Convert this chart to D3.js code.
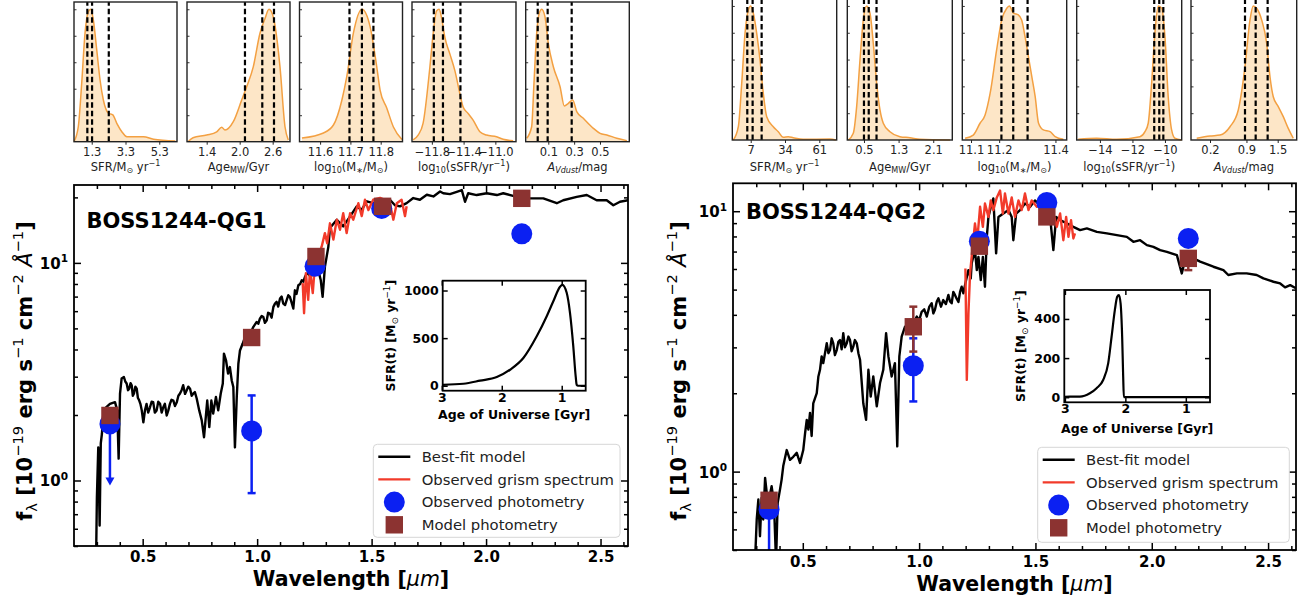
<!DOCTYPE html>
<html><head><meta charset="utf-8">
<script src="https://cdn.jsdelivr.net/npm/d3@7"></script>
<style>body{margin:0;background:#fff;}svg{display:block;font-family:"DejaVu Sans",sans-serif;}</style>
</head><body><script>
// ================= DATA =================
// Best-fit model spectra [wavelength (µm), f_lambda (1e-19 erg/s/cm2/A)]
const qg1Model = [[0.296,0.40],[0.300,0.838],[0.306,1.42],[0.312,0.621],[0.317,1.48],[0.322,1.64],[0.328,2.03],[0.34,2.17],[0.357,2.25],[0.379,2.29],[0.389,2.10],[0.395,1.26],[0.401,2.51],[0.408,2.94],[0.418,2.99],[0.424,2.85],[0.43,2.79],[0.436,2.6],[0.441,2.64],[0.447,2.8],[0.452,2.74],[0.457,2.45],[0.462,2.51],[0.468,2.7],[0.474,2.64],[0.479,2.4],[0.485,2.33],[0.49,2.25],[0.496,2.10],[0.503,1.85],[0.51,2.10],[0.517,2.25],[0.524,2.05],[0.532,2.17],[0.539,2.3],[0.546,2.29],[0.553,2.05],[0.561,2.10],[0.568,2.3],[0.576,2.25],[0.583,2.05],[0.59,2.17],[0.597,2.25],[0.605,1.99],[0.612,2.1],[0.619,2.25],[0.626,2.35],[0.634,2.33],[0.641,2.2],[0.649,2.29],[0.656,2.45],[0.663,2.51],[0.67,2.6],[0.677,2.74],[0.685,2.5],[0.692,2.59],[0.699,2.7],[0.707,2.64],[0.714,2.45],[0.721,2.51],[0.728,2.55],[0.736,2.38],[0.747,2.10],[0.758,1.89],[0.768,1.58],[0.777,2.03],[0.782,2.33],[0.791,1.76],[0.80,2.33],[0.808,2.03],[0.82,2.42],[0.83,2.10],[0.841,2.51],[0.85,2.79],[0.855,3.83],[0.864,3.57],[0.873,3.10],[0.881,3.32],[0.889,2.88],[0.896,2.69],[0.903,1.42],[0.911,2.42],[0.918,3.44],[0.925,3.96],[0.937,4.26],[0.945,4.5],[0.953,4.35],[0.961,4.7],[0.969,4.90],[0.975,4.85],[0.983,5.07],[0.99,5.2],[0.998,5.35],[1.005,5.25],[1.012,5.54],[1.02,5.7],[1.027,5.64],[1.034,5.3],[1.042,5.45],[1.048,5.9],[1.056,5.85],[1.063,5.6],[1.071,6.28],[1.078,6.5],[1.085,6.62],[1.092,6.3],[1.10,6.86],[1.107,7.0],[1.114,6.50],[1.122,6.4],[1.129,6.74],[1.136,7.1],[1.143,6.98],[1.15,6.6],[1.158,6.17],[1.165,7.48],[1.172,7.2],[1.18,7.89],[1.188,8.0],[1.195,8.32],[1.202,8.2],[1.209,8.63],[1.216,8.9],[1.223,8.94],[1.234,8.6],[1.245,9.09],[1.267,9.26],[1.278,8.32],[1.286,6.98],[1.296,9.59],[1.311,11.85],[1.318,14.45],[1.348,15.78],[1.376,14.71],[1.406,16.36],[1.435,18.18],[1.457,17.55],[1.479,19.18],[1.507,18.82],[1.541,19.3],[1.58,19.5],[1.602,18.4],[1.624,18.18],[1.653,18.82],[1.682,19.86],[1.711,19.5],[1.741,20.56],[1.77,20.2],[1.799,21.3],[1.813,20.9],[1.842,20.7],[1.872,21.2],[1.894,21.6],[1.908,19.1],[1.922,20.9],[1.959,20.5],[2.003,20.9],[2.047,20.5],[2.075,20.9],[2.134,20.1],[2.192,19.8],[2.25,19.8],[2.309,18.8],[2.337,19.4],[2.396,20.1],[2.44,20.5],[2.483,19.4],[2.527,19.4],[2.556,18.4],[2.585,19.1],[2.62,19.4]];
const qg2Model = [[0.2946,0.45],[0.302,0.655],[0.309,0.781],[0.316,0.565],[0.323,0.793],[0.330,0.655],[0.338,0.946],[0.345,0.829],[0.352,0.759],[0.366,0.879],[0.376,0.759],[0.385,0.45],[0.392,0.759],[0.402,0.853],[0.409,0.932],[0.416,1.05],[0.431,1.21],[0.445,1.11],[0.459,1.14],[0.474,1.18],[0.488,1.08],[0.502,1.21],[0.51,1.41],[0.517,1.58],[0.524,1.45],[0.531,1.68],[0.538,1.37],[0.545,1.83],[0.56,2.00],[0.567,2.32],[0.574,2.46],[0.581,2.77],[0.588,2.61],[0.603,3.11],[0.61,2.85],[0.617,2.93],[0.624,3.25],[0.631,3.11],[0.638,2.8],[0.646,2.93],[0.653,3.15],[0.66,3.2],[0.667,2.95],[0.674,3.4],[0.681,3.0],[0.689,3.11],[0.696,3.3],[0.703,3.2],[0.71,2.9],[0.717,3.02],[0.724,3.2],[0.732,3.11],[0.739,2.85],[0.746,2.69],[0.76,1.83],[0.772,1.58],[0.782,2.46],[0.792,1.94],[0.803,2.32],[0.818,1.78],[0.832,2.19],[0.846,2.46],[0.858,3.4],[0.868,2.77],[0.882,2.32],[0.896,2.61],[0.906,1.25],[0.915,2.77],[0.925,3.3],[0.939,3.6],[0.95,3.5],[0.961,3.82],[0.975,3.7],[0.99,3.94],[1.0,3.8],[1.011,4.11],[1.022,4.2],[1.033,3.94],[1.044,4.3],[1.054,4.43],[1.061,4.05],[1.068,4.18],[1.076,4.5],[1.083,4.63],[1.094,4.3],[1.104,4.56],[1.115,4.4],[1.126,4.77],[1.133,4.5],[1.14,4.43],[1.147,4.9],[1.154,4.77],[1.162,4.6],[1.169,4.48],[1.176,4.9],[1.183,5.13],[1.19,4.84],[1.202,5.44],[1.212,5.94],[1.222,5.52],[1.226,6.31],[1.24,7.09],[1.248,5.94],[1.255,6.68],[1.265,5.44],[1.274,6.68],[1.283,5.13],[1.291,7.97],[1.298,9.51],[1.312,10.7],[1.319,11.2],[1.331,6.89],[1.341,9.51],[1.362,9.8],[1.384,10.1],[1.398,9.51],[1.405,7.74],[1.417,9.8],[1.434,10.1],[1.455,10.7],[1.477,10.4],[1.498,11.0],[1.52,10.5],[1.563,9.51],[1.577,7.09],[1.589,9.51],[1.606,9.24],[1.635,8.98],[1.663,8.71],[1.692,8.46],[1.721,8.59],[1.764,8.33],[1.807,8.22],[1.85,8.09],[1.893,7.97],[1.921,7.63],[1.95,7.74],[1.979,7.41],[2.007,7.3],[2.036,7.09],[2.065,6.98],[2.108,6.78],[2.129,5.77],[2.143,6.49],[2.179,6.59],[2.208,6.4],[2.265,6.12],[2.308,5.94],[2.329,5.69],[2.366,5.77],[2.408,5.77],[2.451,5.69],[2.48,5.52],[2.523,5.36],[2.552,5.28],[2.573,5.1],[2.595,5.2],[2.62,5.06]];
// Observed grism spectra
const qg1Grism = [[1.199,8.07],[1.205,5.87],[1.213,8.97],[1.223,6.76],[1.231,9.29],[1.243,7.26],[1.253,9.97],[1.267,10.7],[1.282,11.9],[1.296,13.7],[1.306,12.3],[1.318,15.2],[1.333,12.8],[1.348,15.8],[1.362,14.2],[1.376,16.9],[1.391,13.7],[1.406,16.9],[1.42,15.8],[1.442,18.8],[1.457,16.4],[1.471,19.5],[1.486,17.5],[1.507,19.5],[1.537,19.9],[1.563,19.4],[1.58,18.8],[1.595,15.8],[1.61,18.8],[1.631,19.5],[1.646,16.4],[1.653,18.2]];
const qg2Grism = [[1.199,6.03],[1.205,2.25],[1.212,4.05],[1.219,5.77],[1.23,7.3],[1.24,8.97],[1.25,7.74],[1.262,10.4],[1.274,8.71],[1.283,10.7],[1.298,9.51],[1.308,11.0],[1.319,10.1],[1.334,11.3],[1.348,12.0],[1.36,9.8],[1.369,11.7],[1.384,9.8],[1.398,11.3],[1.412,9.51],[1.427,11.0],[1.441,10.1],[1.455,11.7],[1.47,10.1],[1.484,11.0],[1.506,10.4],[1.534,11.0],[1.577,9.8],[1.592,8.71],[1.606,9.8],[1.62,7.74],[1.632,9.51],[1.642,7.97],[1.653,9.24],[1.663,7.86],[1.67,8.22]];
// Photometry [wavelength, flux]; errors [wavelength, low, high]; upper limits [wavelength, flux, limit]
const qg1ObsPhot = [[0.357,1.82],[0.976,1.69],[1.253,9.66],[1.544,17.8],[2.156,13.6]];
const qg1ObsErr = [[0.976,0.875,2.46]];
const qg1ObsLimit = [[0.357,1.82,0.948]];
const qg1ModPhot = [[0.357,1.99],[0.976,4.54],[1.257,10.7],[1.548,18.2],[2.156,19.8]];
const qg1ModErr = [];
const qg2ObsPhot = [[0.355,0.715],[0.975,2.55],[1.259,7.67],[1.549,10.8],[2.157,7.86]];
const qg2ObsErr = [[0.355,0.3,0.72],[0.975,1.86,3.25]];
const qg2ObsLimit = [];
const qg2ModPhot = [[0.355,0.776],[0.975,3.6],[1.259,7.34],[1.549,9.51],[2.157,6.59]];
const qg2ModErr = [[0.975,2.89,4.3],[2.157,5.94,6.9]];
// Star-formation histories [age of universe (Gyr), SFR (Msun/yr)]
const qg1Sfh = [[2.98,10],[2.64,21],[2.362,53],[2.083,91],[1.862,168],[1.64,291],[1.417,519],[1.25,730],[1.14,887],[1.028,1039],[0.99,1060],[0.917,976],[0.862,765],[0.807,414],[0.767,98],[0.75,10],[0.728,0],[0.6,0]];
const qg2Sfh = [[3.0,2],[2.917,3],[2.752,3],[2.587,20],[2.476,46],[2.367,88],[2.284,173],[2.228,309],[2.174,445],[2.135,513],[2.107,522],[2.079,480],[2.053,309],[2.036,105],[2.025,0],[0.6,0]];
// Posterior PDFs [value, normalised density]
const qg1SfrPdf = [[0.248,0],[0.504,0.113],[0.706,0.441],[0.902,0.819],[1.098,0.982],[1.24,1.0],[1.395,0.919],[1.597,0.693],[1.793,0.466],[1.989,0.315],[2.286,0.215],[2.548,0.202],[2.785,0.139],[3.083,0.0755],[3.38,0.038],[4.366,0.038],[4.96,0.018],[6.25,0.005]];
const qg1AgePdf = [[1.06,0],[1.151,0.03],[1.4,0.05],[1.582,0.075],[1.673,0.109],[1.733,0.088],[1.884,0.151],[2.036,0.314],[2.127,0.414],[2.247,0.565],[2.369,0.819],[2.46,0.93],[2.533,1.0],[2.611,0.942],[2.733,0.565],[2.824,0.113],[2.884,0.013]];
const qg1MassPdf = [[11.54,0.028],[11.611,0.066],[11.644,0.126],[11.672,0.315],[11.688,0.491],[11.71,0.821],[11.738,1.0],[11.765,0.869],[11.787,0.566],[11.798,0.39],[11.82,0.255],[11.842,0.111],[11.87,0.017]];
const qg1SsfrPdf = [[-12.036,0.013],[-11.973,0.05],[-11.91,0.14],[-11.825,0.562],[-11.784,0.813],[-11.741,0.987],[-11.708,1.0],[-11.678,0.937],[-11.636,0.787],[-11.573,0.663],[-11.51,0.537],[-11.447,0.363],[-11.406,0.262],[-11.343,0.213],[-11.28,0.163],[-11.195,0.075],[-11.111,0.05],[-10.985,0.037],[-10.902,0.018],[-10.776,0.0075]];
const qg1AvPdf = [[-0.067,0.026],[-0.029,0.113],[-0.011,0.441],[0.01,0.819],[0.03,0.97],[0.049,1.0],[0.074,0.944],[0.1,0.743],[0.139,0.566],[0.191,0.415],[0.224,0.27],[0.255,0.29],[0.289,0.315],[0.32,0.227],[0.371,0.177],[0.449,0.101],[0.501,0.063],[0.553,0.051],[0.63,0.026],[0.708,0.008]];
const qg2SfrPdf = [[-6.68,0],[-2.75,0.099],[-0.08,0.423],[2.52,0.796],[5.11,0.97],[7,1.0],[9.04,0.946],[11.72,0.796],[14.31,0.597],[16.9,0.348],[19.58,0.174],[24.77,0.099],[28.7,0.062],[32.63,0.02],[36.56,0.025],[40.49,0.017],[48.35,0.005],[69.34,0.007],[74.06,0]];
const qg2AgePdf = [[0.137,0],[0.253,0.05],[0.331,0.249],[0.408,0.597],[0.484,0.896],[0.562,1.0],[0.639,0.946],[0.715,0.722],[0.793,0.423],[0.87,0.224],[0.946,0.125],[1.1,0.062],[1.331,0.025],[1.562,0.017],[1.793,0.005],[2.486,0]];
const qg2MassPdf = [[11.079,0.013],[11.108,0.037],[11.132,0.125],[11.15,0.187],[11.168,0.349],[11.191,0.672],[11.209,0.896],[11.227,0.983],[11.236,1.0],[11.251,0.946],[11.268,0.933],[11.28,0.896],[11.292,0.771],[11.304,0.622],[11.316,0.473],[11.328,0.323],[11.34,0.125],[11.357,0.075],[11.381,0.062],[11.399,0.025],[11.428,0.005]];
const qg2SsfrPdf = [[-15.335,0.005],[-14.2,0.013],[-12.97,0.005],[-11.54,0.025],[-11.23,0.062],[-11.03,0.125],[-10.82,0.423],[-10.62,0.796],[-10.41,1.0],[-10.2,0.983],[-10.0,0.771],[-9.8,0.323],[-9.59,0.075],[-9.39,0.013],[-8.97,0]];
const qg2AvPdf = [[-0.055,0.013],[0.2,0.03],[0.392,0.037],[0.584,0.099],[0.743,0.224],[0.872,0.547],[0.968,0.896],[1.031,1.0],[1.096,0.983],[1.192,0.896],[1.288,0.722],[1.352,0.472],[1.415,0.323],[1.511,0.249],[1.607,0.174],[1.703,0.087],[1.799,0.013]];
// 16/50/84 percentiles
const qg1Quantiles = [[1.04,1.32,2.31],[2.096,2.411,2.624],[11.697,11.738,11.776],[-11.775,-11.66,-11.44],[0.018,0.095,0.281]];
const qg2Quantiles = [[4.3,8.5,15.6],[0.5,0.61,0.79],[11.208,11.25,11.301],[-10.66,-10.35,-10.1],[0.872,1.077,1.307]];
// Histogram tick labels
const qg1HistTicks = [[1.3,3.3,5.3],[1.4,2.0,2.6],[11.6,11.7,11.8],[-11.8,-11.4,-11.0],[0.1,0.3,0.5]];
const qg2HistTicks = [[7,34,61],[0.5,1.3,2.1],[11.1,11.2,11.4],[-14,-12,-10],[0.2,0.9,1.5]];
const qg1TickDecimals = [1,1,1,1,1];
const qg2TickDecimals = [0,1,1,0,1];
const wavelengthTicks = [0.5,1.0,1.5,2.0,2.5];
const fluxTicks = [1,10];
const insetAgeTicks = [3,2,1];
const qg1SfrTicks = [0,500,1000];
const qg2SfrTicks = [0,200,400];
const legendLabels = ["Best-fit model","Observed grism spectrum","Observed photometry","Model photometry"];
const panelTitles = ["BOSS1244-QG1","BOSS1244-QG2"];

// ================= DRAWING =================
const BLUE='#0b20f2', BROWN='#8c3331', RED='#f23a2a', ORANGE='#f3a042', FILL='#fde6c7';
const svg=d3.select('body').append('svg').attr('width',1307).attr('height',599);
const defs=svg.append('defs');

function rich(t,segs,fs){
  let cur=0;
  segs.forEach(([s,k])=>{
    const f=(k||'').split(' ');
    const ts=t.append('tspan').text(s);
    let off=0,size=fs;
    if(f.includes('sub')){off=fs*0.22;size=fs*0.7;}
    else if(f.includes('sup')){off=-fs*0.42;size=fs*0.7;}
    ts.attr('font-size',size);
    if(off!==cur) ts.attr('dy',off-cur);
    cur=off;
    if(f.includes('it')) ts.attr('font-style','italic');
    if(f.includes('norm')) ts.attr('font-weight','normal');
    if(f.includes('bold')) ts.attr('font-weight','bold');
  });
}
function styleAxis(g,fs,weight){
  g.select('.domain').remove();
  g.selectAll('.tick line').attr('stroke','#000').attr('stroke-width',1.5);
  g.selectAll('.tick text').attr('font-size',fs).attr('font-weight',weight).attr('fill','#000').attr('font-family','DejaVu Sans');
}
const fmtMinus=(v,d)=>v.toFixed(d).replace('-','\u2212');

// ---------- histograms ----------
const histLabels=[
  [["SFR/M",""],["\u2299","sub"],[" yr",""],["\u22121","sup"]],
  [["Age",""],["MW","sub"],["/Gyr",""]],
  [["log",""],["10","sub"],["(M",""],["\u2217","sub"],["/M",""],["\u2299","sub"],[")",""]],
  [["log",""],["10","sub"],["(sSFR/yr",""],["\u22121","sup"],[")",""]],
  [["A","it"],["Vdust","sub it"],["/mag",""]]
];
function drawHistRow(boxes,doms,top,bottom,pdfs,quants,ticks,decs){
  boxes.forEach((b,i)=>{
    const x=d3.scaleLinear().domain(doms[i]).range([b[0],b[1]]);
    const y=d3.scaleLinear().domain([0,1/0.948]).range([bottom,top]);
    const g=svg.append('g');
    const area=d3.area().x(d=>x(d[0])).y0(y(0)).y1(d=>y(d[1])).curve(d3.curveMonotoneX);
    const line=d3.line().x(d=>x(d[0])).y(d=>y(d[1])).curve(d3.curveMonotoneX);
    g.append('path').datum(pdfs[i]).attr('d',area).attr('fill',FILL);
    g.append('path').datum(pdfs[i]).attr('d',line).attr('fill','none').attr('stroke',ORANGE).attr('stroke-width',1.5);
    g.selectAll('line.q').data(quants[i]).join('line').attr('x1',d=>x(d)).attr('x2',d=>x(d)).attr('y1',bottom).attr('y2',top)
      .attr('stroke','#000').attr('stroke-width',2.2).attr('stroke-dasharray','5.5,3');
    const ax=g.append('g').attr('transform',`translate(0,${bottom})`)
      .call(d3.axisBottom(x).tickValues(ticks[i]).tickSizeInner(3).tickSizeOuter(0).tickPadding(3).tickFormat(d=>fmtMinus(d,decs[i])));
    styleAxis(ax,11.5,'normal');
    ax.selectAll('.tick text').attr('fill','#222');
    ax.selectAll('.tick line').attr('stroke','#222').attr('stroke-width',1);
    const ay=g.append('g').attr('transform',`translate(${b[0]},0)`)
      .call(d3.axisLeft(y).tickValues([0.2,0.4,0.6,0.8,1.0]).tickSizeInner(-2.5).tickSizeOuter(0).tickFormat(''));
    styleAxis(ay,1,'normal'); ay.selectAll('.tick line').attr('stroke','#333').attr('stroke-width',1);
    g.append('rect').attr('x',b[0]).attr('y',top).attr('width',b[1]-b[0]).attr('height',bottom-top)
      .attr('fill','none').attr('stroke','#222').attr('stroke-width',1.4);
    const t=g.append('text').attr('x',(b[0]+b[1])/2).attr('y',170.5).attr('text-anchor','middle').attr('font-size',11.5).attr('fill','#222');
    rich(t,histLabels[i],11.5);
  });
}
drawHistRow([[74,177],[187,290],[299.5,402.5],[412,516],[525.7,629.3]],
  [[0.25,6.35],[1.042,2.915],[11.532,11.872],[-12.05,-10.74],[-0.075,0.727]],2,141.7,
  [qg1SfrPdf,qg1AgePdf,qg1MassPdf,qg1SsfrPdf,qg1AvPdf],qg1Quantiles,qg1HistTicks,qg1TickDecimals);
drawHistRow([[732.3,836.7],[847.3,952.3],[962.3,1066.7],[1076.7,1181.7],[1191,1296.7]],
  [[-7.5,74.7],[0.115,2.54],[11.069,11.44],[-15.43,-8.97],[-0.165,1.865]],-1.4,140,
  [qg2SfrPdf,qg2AgePdf,qg2MassPdf,qg2SsfrPdf,qg2AvPdf],qg2Quantiles,qg2HistTicks,qg2TickDecimals);

// ---------- main panels ----------
function drawMain(o){
  const x=d3.scaleLinear().domain([0.2,2.62]).range([o.l,o.r]);
  const y=d3.scaleLog().domain(o.yd).range([o.b,o.t]);
  const g=svg.append('g');
  const cid='clip'+o.id;
  defs.append('clipPath').attr('id',cid).append('rect').attr('x',o.l).attr('y',o.t).attr('width',o.r-o.l).attr('height',o.b-o.t);
  const gc=g.append('g').attr('clip-path',`url(#${cid})`);
  const line=d3.line().x(d=>x(d[0])).y(d=>y(d[1]));
  gc.append('path').datum(o.model).attr('d',line).attr('fill','none').attr('stroke','#000').attr('stroke-width',2.4).attr('stroke-linejoin','round');
  gc.append('path').datum(o.grism).attr('d',line).attr('fill','none').attr('stroke',RED).attr('stroke-width',2.4).attr('stroke-linejoin','round');
  const err=(arr,col)=>arr.forEach(([w,lo,hi])=>{
    const xx=x(w);
    gc.append('line').attr('x1',xx).attr('x2',xx).attr('y1',y(lo)).attr('y2',y(hi)).attr('stroke',col).attr('stroke-width',2.5);
    [lo,hi].forEach(v=>gc.append('line').attr('x1',xx-4).attr('x2',xx+4).attr('y1',y(v)).attr('y2',y(v)).attr('stroke',col).attr('stroke-width',2.5));
  });
  err(o.obsErr,BLUE);
  o.obsLim.forEach(([w,f,lim])=>{
    const xx=x(w),yt=y(lim);
    gc.append('line').attr('x1',xx).attr('x2',xx).attr('y1',y(f)).attr('y2',yt-7).attr('stroke',BLUE).attr('stroke-width',2.5);
    gc.append('path').attr('d',`M${xx-4.5},${yt-8}L${xx+4.5},${yt-8}L${xx},${yt}Z`).attr('fill',BLUE);
  });
  gc.selectAll('circle.obs').data(o.obs).join('circle').attr('cx',d=>x(d[0])).attr('cy',d=>y(d[1])).attr('r',10.5).attr('fill',BLUE);
  err(o.modErr,BROWN);
  gc.selectAll('rect.mod').data(o.mod).join('rect').attr('x',d=>x(d[0])-8.7).attr('y',d=>y(d[1])-8.7).attr('width',17.4).attr('height',17.4).attr('fill',BROWN);

  // axes
  const minor=d3.range(3,27).map(v=>v/10).filter(v=>Math.abs(v*2-Math.round(v*2))>1e-6);
  const ax1=g.append('g').attr('transform',`translate(0,${o.b})`).call(d3.axisBottom(x).tickValues(wavelengthTicks).tickSizeInner(-7).tickSizeOuter(0).tickPadding(o.xpad).tickFormat(d=>d.toFixed(1)));
  styleAxis(ax1,15,'bold');
  const ax2=g.append('g').attr('transform',`translate(0,${o.b})`).call(d3.axisBottom(x).tickValues(minor).tickSizeInner(-4).tickSizeOuter(0).tickFormat(''));
  styleAxis(ax2,1,'normal');
  const ax3=g.append('g').attr('transform',`translate(0,${o.t})`).call(d3.axisTop(x).tickValues(wavelengthTicks).tickSizeInner(-7).tickSizeOuter(0).tickFormat(''));
  styleAxis(ax3,1,'normal');
  const ax4=g.append('g').attr('transform',`translate(0,${o.t})`).call(d3.axisTop(x).tickValues(minor).tickSizeInner(-4).tickSizeOuter(0).tickFormat(''));
  styleAxis(ax4,1,'normal');
  const yMin=[];
  [-1,0,1].forEach(e=>{for(let m=2;m<=9;m++){const v=m*Math.pow(10,e);if(v>=o.yd[0]-1e-9&&v<=o.yd[1])yMin.push(v);}});
  const ay1=g.append('g').attr('transform',`translate(${o.l},0)`).call(d3.axisLeft(y).tickValues(fluxTicks).tickSizeInner(-7).tickSizeOuter(0).tickPadding(6).tickFormat(''));
  styleAxis(ay1,15,'bold');
  ay1.selectAll('.tick text').each(function(d){
    const t=d3.select(this); t.text(null).attr('dy','0.36em');
    t.append('tspan').text('10');
    t.append('tspan').text(String(Math.round(Math.log10(d)))).attr('font-size',10.5).attr('dy',-6.5);
  });
  const ay2=g.append('g').attr('transform',`translate(${o.l},0)`).call(d3.axisLeft(y).tickValues(yMin).tickSizeInner(-4).tickSizeOuter(0).tickFormat(''));
  styleAxis(ay2,1,'normal');
  const ay3=g.append('g').attr('transform',`translate(${o.r},0)`).call(d3.axisRight(y).tickValues(fluxTicks).tickSizeInner(-7).tickSizeOuter(0).tickFormat(''));
  styleAxis(ay3,1,'normal');
  const ay4=g.append('g').attr('transform',`translate(${o.r},0)`).call(d3.axisRight(y).tickValues(yMin).tickSizeInner(-4).tickSizeOuter(0).tickFormat(''));
  styleAxis(ay4,1,'normal');
  g.append('rect').attr('x',o.l).attr('y',o.t).attr('width',o.r-o.l).attr('height',o.b-o.t).attr('fill','none').attr('stroke','#000').attr('stroke-width',1.8);

  // labels
  g.append('text').attr('x',o.titleX).attr('y',o.titleY).attr('font-size',21).attr('font-weight','bold').text(o.title);
  const xl=g.append('text').attr('x',(o.l+o.r)/2).attr('y',o.xlabY).attr('text-anchor','middle').attr('font-size',20.5).attr('font-weight','bold');
  rich(xl,[["Wavelength [",""],["\u03bcm","it norm"],["]",""]],20.5);
  const yl=g.append('text').attr('x',o.ylabX).attr('y',o.ylabY).attr('transform',`rotate(-90,${o.ylabX},${o.ylabY})`).attr('text-anchor','middle').attr('font-size',21).attr('font-weight','bold');
  rich(yl,[["f",""],["\u03bb","sub norm"],[" [10",""],["\u221219","sup norm"],[" erg s",""],["\u22121","sup norm"],[" cm",""],["\u22122","sup norm"],[" ",""],["\u00c5","it norm"],["\u22121","sup norm"],["]",""]],21);

  // inset
  const I=o.inset;
  const ix=d3.scaleLinear().domain(I.xd).range([I.l,I.r]);
  const iy=d3.scaleLinear().domain(I.yd).range([I.b,I.t]);
  const gi=g.append('g');
  gi.append('rect').attr('x',I.l).attr('y',I.t).attr('width',I.r-I.l).attr('height',I.b-I.t).attr('fill','#fff');
  const icid='iclip'+o.id;
  defs.append('clipPath').attr('id',icid).append('rect').attr('x',I.l).attr('y',I.t).attr('width',I.r-I.l).attr('height',I.b-I.t);
  gi.append('path').datum(I.sfh).attr('clip-path',`url(#${icid})`).attr('d',d3.line().x(d=>ix(d[0])).y(d=>iy(d[1])).curve(d3.curveMonotoneX))
    .attr('fill','none').attr('stroke','#000').attr('stroke-width',2.2);
  const ib=gi.append('g').attr('transform',`translate(0,${I.b})`).call(d3.axisBottom(ix).tickValues(insetAgeTicks).tickSizeInner(-5).tickSizeOuter(0).tickPadding(2).tickFormat(d3.format('d')));
  styleAxis(ib,12.5,'bold');
  const itp=gi.append('g').attr('transform',`translate(0,${I.t})`).call(d3.axisTop(ix).tickValues(insetAgeTicks).tickSizeInner(-5).tickSizeOuter(0).tickFormat(''));
  styleAxis(itp,1,'normal');
  const il=gi.append('g').attr('transform',`translate(${I.l},0)`).call(d3.axisLeft(iy).tickValues(I.yt).tickSizeInner(-5).tickSizeOuter(0).tickPadding(4).tickFormat(d3.format('d')));
  styleAxis(il,12.5,'bold');
  const ir=gi.append('g').attr('transform',`translate(${I.r},0)`).call(d3.axisRight(iy).tickValues(I.yt).tickSizeInner(-5).tickSizeOuter(0).tickFormat(''));
  styleAxis(ir,1,'normal');
  gi.append('rect').attr('x',I.l).attr('y',I.t).attr('width',I.r-I.l).attr('height',I.b-I.t).attr('fill','none').attr('stroke','#000').attr('stroke-width',1.8);
  gi.append('text').attr('x',(I.l+I.r)/2).attr('y',I.xlabY).attr('text-anchor','middle').attr('font-size',12.5).attr('font-weight','bold').text('Age of Universe [Gyr]');
  const iyl=gi.append('text').attr('x',I.ylabX).attr('y',(I.t+I.b)/2).attr('transform',`rotate(-90,${I.ylabX},${(I.t+I.b)/2})`).attr('text-anchor','middle').attr('font-size',12.5).attr('font-weight','bold');
  rich(iyl,[["SFR(t) [M",""],["\u2299","sub norm"],[" yr",""],["\u22121","sup norm"],["]",""]],12.5);

  // legend
  const L=o.legend;
  const gl=g.append('g');
  gl.append('rect').attr('x',L.x).attr('y',L.y).attr('width',L.w).attr('height',L.h).attr('rx',4).attr('fill','#fff').attr('fill-opacity',0.85).attr('stroke','#d6d6d6').attr('stroke-width',1);
  const rows=[L.y+12.4,L.y+35.1,L.y+57.8,L.y+80.5];
  const hx0=L.x+5,hx1=L.x+37,hc=(hx0+hx1)/2;
  gl.append('line').attr('x1',hx0).attr('x2',hx1).attr('y1',rows[0]).attr('y2',rows[0]).attr('stroke','#000').attr('stroke-width',2.4);
  gl.append('line').attr('x1',hx0).attr('x2',hx1).attr('y1',rows[1]).attr('y2',rows[1]).attr('stroke',RED).attr('stroke-width',2.4);
  gl.append('circle').attr('cx',hc).attr('cy',rows[2]).attr('r',10.5).attr('fill',BLUE);
  gl.append('rect').attr('x',hc-8.7).attr('y',rows[3]-8.7).attr('width',17.4).attr('height',17.4).attr('fill',BROWN);
  legendLabels.forEach((s,i)=>gl.append('text').attr('x',L.x+48.4).attr('y',rows[i]).attr('dy','0.36em').attr('font-size',14.8).attr('fill','#222').text(s));
}

drawMain({id:1,l:74,r:628,t:185,b:546,yd:[0.5,22.8],xpad:5,
  model:qg1Model,grism:qg1Grism,obs:qg1ObsPhot,obsErr:qg1ObsErr,obsLim:qg1ObsLimit,mod:qg1ModPhot,modErr:qg1ModErr,
  title:panelTitles[0],titleX:86.5,titleY:228.3,xlabY:585.5,ylabX:32,ylabY:371,
  inset:{l:442.7,r:585.7,t:280.7,b:390.7,xd:[2.985,0.6],yd:[-52,1103],yt:qg1SfrTicks,sfh:qg1Sfh,xlabY:419.3,ylabX:395},
  legend:{x:373.3,y:444.3,w:246.7,h:93}});
drawMain({id:2,l:733,r:1296,t:183.3,b:550,yd:[0.5,12.8],xpad:6,
  model:qg2Model,grism:qg2Grism,obs:qg2ObsPhot,obsErr:qg2ObsErr,obsLim:qg2ObsLimit,mod:qg2ModPhot,modErr:qg2ModErr,
  title:panelTitles[1],titleX:746,titleY:219.3,xlabY:590.5,ylabX:686,ylabY:371,
  inset:{l:1064.3,r:1210,t:290,b:402.3,xd:[3.01,0.6],yd:[-26,548],yt:qg2SfrTicks,sfh:qg2Sfh,xlabY:432.7,ylabX:1025},
  legend:{x:1037.7,y:447.3,w:251.6,h:95}});
</script></body></html>
